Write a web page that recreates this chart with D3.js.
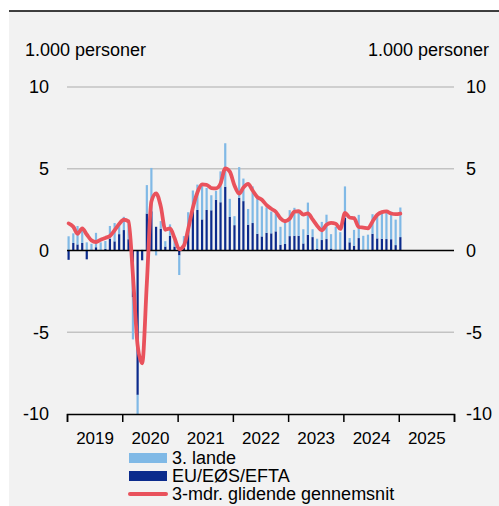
<!DOCTYPE html>
<html>
<head>
<meta charset="utf-8">
<script src="https://cdn.jsdelivr.net/npm/d3@7"></script>
<style>
  body { margin: 0; background: #ffffff; }
  svg { display: block; font-family: "Liberation Sans", Arial, sans-serif; }
</style>
</head>
<body>
<svg id="chart" width="499" height="506"></svg>
<script>
// Monthly net immigration, thousand persons, Jan 2019 – Jan 2025
const euValues = [
  -0.57, 0.46, 0.37, 0.46, -0.54, 0.05, 0.20, 0.02, 0.10, 0.72, 0.56, 1.00,
  1.25, 0.69, -2.86, -8.83, -0.60, 2.26, 2.40, 1.45, 1.33, 0.24, 0.89, 0.24,
  -0.30, 0.16, 1.38, 2.50, 2.48, 1.90, 2.48, 2.46, 3.10, 2.95, 3.90, 2.05,
  1.55, 3.22, 3.02, 1.58, 1.68, 1.02, 0.86, 1.08, 1.05, 1.17, 0.35, 0.40,
  0.88, 0.90, 0.90, 0.43, 0.96, 0.82, 0.10, 0.64, 0.70, 0.12, 0.04, 0.01,
  2.00, 0.50, 0.29, 0.76, 0.04, 0.04, 1.02, 0.74, 0.72, 0.70, 0.69, 0.33,
  0.82
];
const landeValues = [
  0.87, 0.59, 1.13, 0.74, 0.50, 0.36, 0.88, 0.48, 0.48, 0.78, 1.12, 0.65,
  0.81, 1.08, -2.58, -1.17, 0.05, 1.74, 2.65, -0.30, 0.47, 0.33, 0.71, 0.46,
  -1.20, 0.72, 0.96, 1.17, 1.55, 2.22, 1.35, 0.92, 0.55, 1.89, 2.66, 1.11,
  0.55, 1.88, 1.38, 0.96, 2.24, 2.18, 1.84, 1.56, 1.33, 1.08, 1.10, 1.40,
  1.59, 1.71, 1.45, 0.87, 1.97, 0.48, 0.62, 1.11, 1.49, 0.88, 1.41, 1.11,
  1.92, 0.26, 0.97, 1.42, 0.86, 0.93, 1.20, 1.44, 1.69, 1.75, 1.68, 1.56,
  1.81
];
// 3-month moving average, as published
const avgValues = [
  1.66, 1.45, 1.02, 1.35, 0.98, 0.62, 0.52, 0.66, 0.77, 0.89, 1.24, 1.62,
  1.88, 1.78, -1.50, -5.80, -6.90, -2.00, 3.00, 3.50, 2.70, 1.27, 1.35, 0.76,
  0.08, 0.30, 1.30, 2.62, 3.55, 4.04, 4.02, 3.82, 3.80, 4.10, 5.02, 4.82,
  3.98, 3.48, 3.85, 4.07, 3.67, 3.27, 3.10, 2.78, 2.55, 2.37, 1.96, 1.79,
  1.95, 2.38, 2.40, 2.20, 2.27, 1.90, 1.52, 1.24, 1.57, 1.69, 1.64, 1.32,
  2.30, 2.02, 1.98, 1.44, 1.40, 1.36, 1.77, 2.18, 2.35, 2.39, 2.26, 2.22,
  2.26
];
const yearLabels = ["2019", "2020", "2021", "2022", "2023", "2024", "2025"];
const yTicks = [-10, -5, 0, 5, 10];
const legendLabels = ["3. lande", "EU/EØS/EFTA", "3-mdr. glidende gennemsnit"];
const unitLabel = "1.000 personer";

const colLande = "#80b9e6";
const colEu = "#0b2b8c";
const colAvg = "#e9525c";
const fontFam = "Liberation Sans, Arial, sans-serif";

const months = d3.timeMonth.range(new Date(2019, 0, 1), new Date(2025, 1, 1));
const rows = months.map((m, i) => ({ date: m, eu: euValues[i], lande: landeValues[i], avg: avgValues[i] }));

const svg = d3.select("#chart");

// panel background and top rule
svg.append("rect").attr("x", 9).attr("y", 11).attr("width", 490).attr("height", 495).attr("fill", "#f2f2f2");
svg.append("line").attr("x1", 9).attr("x2", 499).attr("y1", 11).attr("y2", 11)
  .attr("stroke", "#000").attr("stroke-width", 1.5);

const x = d3.scaleTime().domain([new Date(2019, 0, 1), new Date(2026, 0, 1)]).range([67, 454]);
const y = d3.scaleLinear().domain([-10, 10]).range([414, 87]);

// gridlines
svg.append("g").selectAll("line").data(yTicks.filter(t => t !== 0 && t !== -10)).join("line")
  .attr("x1", 67).attr("x2", 454)
  .attr("y1", d => y(d)).attr("y2", d => y(d))
  .attr("stroke", "#c3c3c3").attr("stroke-width", 1.3);

// stacked bars
const stack = d3.stack().keys(["eu", "lande"]).offset(d3.stackOffsetDiverging);
const series = stack(rows);
const barW = 2.2;
const barOff = 1.6;
svg.append("g").selectAll("g").data(series).join("g")
  .attr("fill", d => d.key === "eu" ? colEu : colLande)
  .selectAll("rect").data(d => d).join("rect")
  .attr("x", d => x(d.data.date) + barOff - barW / 2)
  .attr("width", barW)
  .attr("y", d => y(Math.max(d[0], d[1])))
  .attr("height", d => Math.abs(y(d[0]) - y(d[1])));

// zero line
svg.append("line").attr("x1", 67).attr("x2", 454).attr("y1", y(0)).attr("y2", y(0))
  .attr("stroke", "#000").attr("stroke-width", 1.5);

// moving average
const line = d3.line().x(d => x(d.date) + barOff).y(d => y(d.avg)).curve(d3.curveMonotoneX);
svg.append("path").datum(rows).attr("d", line)
  .attr("fill", "none").attr("stroke", colAvg).attr("stroke-width", 3.8)
  .attr("stroke-linejoin", "round").attr("stroke-linecap", "round");

// x axis: year boundaries as ticks, year names centred between them
const yearStarts = d3.range(2019, 2027).map(yr => new Date(yr, 0, 1));
const xAxis = svg.append("g").attr("transform", `translate(0,${y(-10)})`)
  .call(d3.axisBottom(x).tickValues(yearStarts).tickSize(8).tickFormat(""));
xAxis.select(".domain").attr("stroke", "#000").attr("stroke-width", 1.5);
xAxis.selectAll(".tick line").attr("stroke", "#000").attr("stroke-width", 1.5);

const midYears = yearLabels.map(s => new Date(+s, 6, 2));
const xLab = svg.append("g").attr("transform", `translate(0,${y(-10)})`)
  .call(d3.axisBottom(x).tickValues(midYears).tickSize(0).tickPadding(18)
    .tickFormat((d, i) => yearLabels[i]));
xLab.select(".domain").remove();
xLab.selectAll("text").attr("font-size", 17).attr("fill", "#000").attr("font-family", fontFam);

// y axes on both sides (plain hyphen for negatives)
const yFmt = d => String(d);
const yLeft = svg.append("g").attr("transform", "translate(67,0)")
  .call(d3.axisLeft(y).tickValues(yTicks).tickSize(0).tickPadding(18).tickFormat(yFmt));
yLeft.select(".domain").remove();
yLeft.selectAll("text").attr("font-size", 18).attr("fill", "#000").attr("font-family", fontFam);

const yRight = svg.append("g").attr("transform", "translate(454,0)")
  .call(d3.axisRight(y).tickValues(yTicks).tickSize(0).tickPadding(12).tickFormat(yFmt));
yRight.select(".domain").remove();
yRight.selectAll("text").attr("font-size", 18).attr("fill", "#000").attr("font-family", fontFam);

// unit labels
svg.append("text").attr("x", 25).attr("y", 56).attr("font-size", 18).text(unitLabel);
svg.append("text").attr("x", 489).attr("y", 56).attr("font-size", 18).attr("text-anchor", "end").text(unitLabel);

// legend
const lg = svg.append("g");
const lgY = [458, 476, 494];
lg.append("rect").attr("x", 129).attr("y", lgY[0] - 5).attr("width", 38).attr("height", 10).attr("fill", colLande);
lg.append("rect").attr("x", 129).attr("y", lgY[1] - 5).attr("width", 38).attr("height", 10).attr("fill", colEu);
lg.append("line").attr("x1", 130).attr("x2", 166).attr("y1", lgY[2]).attr("y2", lgY[2])
  .attr("stroke", colAvg).attr("stroke-width", 4).attr("stroke-linecap", "round");
lg.selectAll("text").data(legendLabels).join("text")
  .attr("x", 172).attr("y", (d, i) => lgY[i] + 6).attr("font-size", 18).text(d => d);
</script>
</body>
</html>
